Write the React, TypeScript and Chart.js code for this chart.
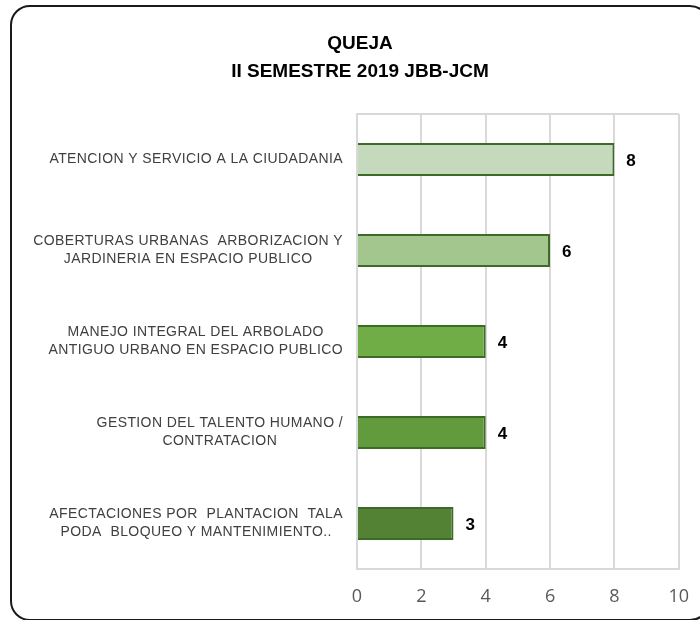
import { useEffect, useRef } from "react";
import { Chart, registerables } from "chart.js";

Chart.register(...registerables);

const categories: string[][] = [
  ["ATENCION Y SERVICIO A LA CIUDADANIA"],
  ["COBERTURAS URBANAS  ARBORIZACION Y", "JARDINERIA EN ESPACIO PUBLICO"],
  ["MANEJO INTEGRAL DEL ARBOLADO", "ANTIGUO URBANO EN ESPACIO PUBLICO"],
  ["GESTION DEL TALENTO HUMANO /", "CONTRATACION"],
  ["AFECTACIONES POR  PLANTACION  TALA", "PODA  BLOQUEO Y MANTENIMIENTO.."],
];
const values: number[] = [8, 6, 4, 4, 3];
const barColors: string[] = ["#C5D9BC", "#A3C58E", "#70AD47", "#619B3E", "#548235"];
const titleLines: string[] = ["QUEJA", "II SEMESTRE 2019 JBB-JCM"];
const xMin = 0;
const xMax = 10;
const xStep = 2;

const GRID = "#D9D9D9";

const topBorderPlugin = {
  id: "topBorder",
  beforeDatasetsDraw(chart: any) {
    const { ctx, chartArea } = chart;
    ctx.save();
    ctx.strokeStyle = GRID;
    ctx.lineWidth = 2;
    ctx.beginPath();
    ctx.moveTo(chartArea.left, chartArea.top);
    ctx.lineTo(chartArea.right, chartArea.top);
    ctx.stroke();
    ctx.restore();
  },
};

const valueLabelPlugin = {
  id: "valueLabels",
  afterDatasetsDraw(chart: any) {
    const { ctx } = chart;
    const meta = chart.getDatasetMeta(0);
    ctx.save();
    ctx.font = 'bold 17px "Liberation Sans", Arial, sans-serif';
    ctx.fillStyle = "#000000";
    ctx.textAlign = "left";
    ctx.textBaseline = "middle";
    meta.data.forEach((el: any, i: number) => {
      ctx.fillText(String(values[i]), el.x + 12, el.y + 2);
    });
    ctx.restore();
  },
};

const categoryLabelPlugin = {
  id: "categoryLabels",
  afterDraw(chart: any) {
    const { ctx, chartArea } = chart;
    const yScale = chart.scales.y;
    ctx.save();
    ctx.font = '14px "Liberation Sans", Arial, sans-serif';
    try {
      (ctx as any).letterSpacing = "0.4px";
    } catch (e) {}
    ctx.fillStyle = "#404040";
    ctx.textAlign = "center";
    ctx.textBaseline = "middle";
    const lh = 18;
    categories.forEach((lines, i) => {
      const cy = yScale.getPixelForTick(i);
      const w = Math.max(...lines.map((l) => ctx.measureText(l).width));
      const cx = chartArea.left - 14 - w / 2;
      lines.forEach((l, j) => {
        ctx.fillText(l, cx, cy + (j - (lines.length - 1) / 2) * lh);
      });
    });
    ctx.restore();
  },
};

export default function App() {
  const canvasRef = useRef<HTMLCanvasElement | null>(null);

  useEffect(() => {
    if (!canvasRef.current) return;
    const chart = new Chart(canvasRef.current, {
      type: "bar",
      data: {
        labels: categories,
        datasets: [
          {
            data: values,
            backgroundColor: barColors,
            borderColor: "#3E6A27",
            borderWidth: 2,
            barPercentage: 0.36,
            categoryPercentage: 1,
          },
        ],
      },
      options: {
        indexAxis: "y",
        animation: false,
        responsive: false,
        maintainAspectRatio: false,
        layout: { padding: { left: 41, right: 27, top: 5, bottom: 12 } },
        plugins: {
          legend: { display: false },
          tooltip: { enabled: false },
          title: {
            display: true,
            text: titleLines,
            color: "#000000",
            font: { family: '"Liberation Sans", Arial, sans-serif', size: 19, weight: "bold", lineHeight: 28 / 19 },
            padding: { top: 25, bottom: 28 },
          },
        },
        scales: {
          x: {
            min: xMin,
            max: xMax,
            ticks: {
              stepSize: xStep,
              color: "#595959",
              padding: 17,
              font: { family: '"Open Sans", sans-serif', size: 18 },
            },
            grid: { color: GRID, lineWidth: 2, drawTicks: false },
            border: { display: true, color: GRID, width: 2 },
            afterFit(scale: any) {
              scale.height = 39;
            },
          },
          y: {
            ticks: { display: false },
            grid: { display: false },
            border: { display: true, color: GRID, width: 2 },
            afterFit(scale: any) {
              scale.width = 316;
            },
          },
        },
      },
      plugins: [topBorderPlugin, valueLabelPlugin, categoryLabelPlugin],
    });
    return () => chart.destroy();
  }, []);

  return (
    <div style={{ position: "fixed", left: 0, top: 0, width: 700, height: 620, overflow: "hidden", background: "#ffffff" }}>
      <div
        style={{
          position: "absolute",
          left: 10,
          top: 5,
          width: 700,
          height: 616,
          boxSizing: "border-box",
          border: "2px solid #1a1a1a",
          borderRadius: 20,
        }}
      />
      <canvas ref={canvasRef} width={706} height={620} style={{ position: "absolute", left: 0, top: 0 }} />
    </div>
  );
}
